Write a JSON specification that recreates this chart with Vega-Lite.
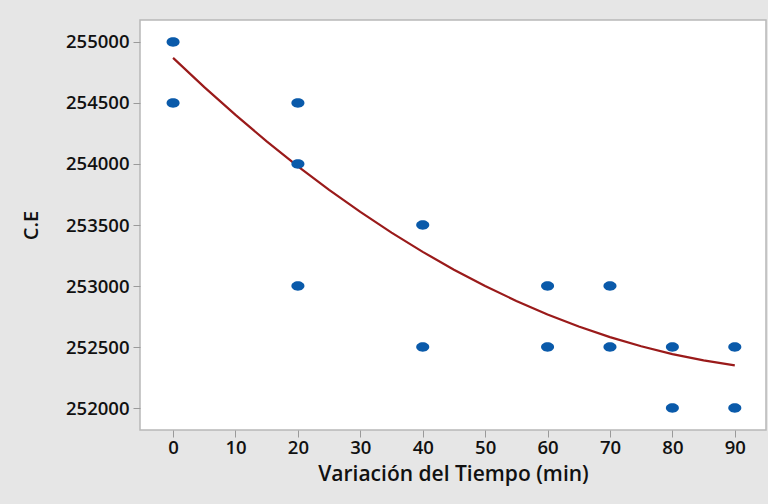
{
  "$schema": "https://vega.github.io/schema/vega-lite/v6.json",
  "autosize": {"type": "none"},
  "padding": {"left": 140, "top": 20, "right": 2, "bottom": 74},
  "width": 626,
  "height": 410,
  "background": "#e6e6e6",
  "config": {
    "view": {"fill": "white", "stroke": "#b8b8b8", "strokeWidth": 1.5},
    "axis": {"grid": false, "domain": false, "tickColor": "#9a9a9a", "tickSize": 7, "labelColor": "#111", "titleColor": "#111", "labelFont": "Open Sans", "titleFont": "Open Sans", "labelFontSize": 18.5, "labelFontWeight": 600, "titleFontWeight": 600}
  },
  "datasets": {
    "pts": [
      {"t": 0, "ce": 255000}, {"t": 0, "ce": 254500},
      {"t": 20, "ce": 254500}, {"t": 20, "ce": 254000}, {"t": 20, "ce": 253000},
      {"t": 40, "ce": 253500}, {"t": 40, "ce": 252500},
      {"t": 60, "ce": 253000}, {"t": 60, "ce": 252500},
      {"t": 70, "ce": 253000}, {"t": 70, "ce": 252500},
      {"t": 80, "ce": 252500}, {"t": 80, "ce": 252000},
      {"t": 90, "ce": 252500}, {"t": 90, "ce": 252000}
    ],
    "fit": [
      {"t": 0, "ce": 254870}, {"t": 5, "ce": 254630}, {"t": 10, "ce": 254402}, {"t": 15, "ce": 254186},
      {"t": 20, "ce": 253981}, {"t": 25, "ce": 253788}, {"t": 30, "ce": 253607}, {"t": 35, "ce": 253438},
      {"t": 40, "ce": 253280}, {"t": 45, "ce": 253134}, {"t": 50, "ce": 253000}, {"t": 55, "ce": 252878},
      {"t": 60, "ce": 252767}, {"t": 65, "ce": 252668}, {"t": 70, "ce": 252581}, {"t": 75, "ce": 252506},
      {"t": 80, "ce": 252442}, {"t": 85, "ce": 252390}, {"t": 90, "ce": 252350}
    ]
  },
  "encoding": {
    "x": {"field": "t", "type": "quantitative", "scale": {"domain": [-5.3, 95], "nice": false, "zero": false},
      "axis": {"values": [0,10,20,30,40,50,60,70,80,90], "title": "Variación del Tiempo (min)", "titleFontSize": 21, "labelPadding": 1, "titlePadding": 7}},
    "y": {"field": "ce", "type": "quantitative", "scale": {"domain": [251820, 255180], "nice": false, "zero": false},
      "axis": {"values": [252000,252500,253000,253500,254000,254500,255000], "format": "d", "title": "C.E", "titleFontSize": 20, "labelPadding": 4, "titlePadding": 24}}
  },
  "layer": [
    {"data": {"name": "fit"}, "mark": {"type": "line", "color": "#9a1a1a", "strokeWidth": 2.2}},
    {"data": {"name": "pts"}, "mark": {"type": "point", "filled": true, "opacity": 1, "color": "#0a5aaa", "size": 170, "shape": "M -1 0 A 1 0.72 0 1 0 1 0 A 1 0.72 0 1 0 -1 0 Z"}}
  ]
}
